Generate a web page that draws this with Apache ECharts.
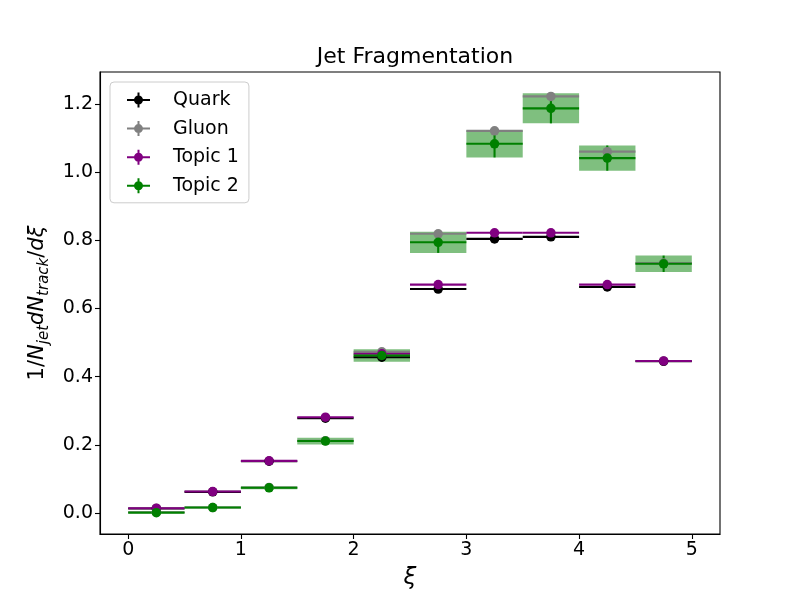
<!DOCTYPE html>
<html>
<head>
<meta charset="utf-8">
<script src="https://cdn.jsdelivr.net/npm/echarts@6/dist/echarts.min.js"></script>
<style>html,body{margin:0;padding:0;background:#fff}#c{width:800px;height:600px}</style>
</head>
<body>
<div id="c"></div>
<script>
const binEdges = [0, 0.5, 1, 1.5, 2, 2.5, 3, 3.5, 4, 4.5, 5];
const seriesNames = ['Quark', 'Gluon', 'Topic 1', 'Topic 2'];
const quark     = [0.013, 0.062, 0.152, 0.278, 0.457, 0.657, 0.804, 0.810, 0.663, 0.445];
const quarkErr  = [0.001, 0.001, 0.002, 0.002, 0.003, 0.004, 0.004, 0.004, 0.004, 0.003];
const gluon     = [0.002, 0.016, 0.075, 0.212, 0.473, 0.819, 1.121, 1.222, 1.060, 0.733];
const gluonErr  = [0.001, 0.001, 0.002, 0.003, 0.004, 0.005, 0.006, 0.006, 0.006, 0.005];
const topic1    = [0.014, 0.063, 0.153, 0.281, 0.467, 0.670, 0.822, 0.822, 0.670, 0.446];
const topic1Err = [0.001, 0.001, 0.002, 0.002, 0.003, 0.003, 0.004, 0.004, 0.003, 0.003];
const topic2    = [0.001, 0.016, 0.074, 0.211, 0.462, 0.794, 1.083, 1.187, 1.041, 0.731];
const topic2Err = [0.001, 0.002, 0.004, 0.010, 0.018, 0.031, 0.040, 0.044, 0.037, 0.024];
const xTicks = [0, 1, 2, 3, 4, 5];
const yTicks = [0, 0.2, 0.4, 0.6, 0.8, 1.0, 1.2];

const colors = ['#000000', '#808080', '#800080', '#008000'];
const values = [quark, gluon, topic1, topic2];
const errs = [quarkErr, gluonErr, topic1Err, topic2Err];

function rows(vals, err) {
  return vals.map((v, i) => [binEdges[i], binEdges[i + 1], v, err[i]]);
}
function pts(vals) {
  return vals.map((v, i) => [(binEdges[i] + binEdges[i + 1]) / 2, v]);
}

const FONT = 'DejaVu Sans';
const legendIcon = 'path://M0,6.5 L23,6.5 L23,8.5 L0,8.5 Z M10.5,0 L12.5,0 L12.5,15 L10.5,15 Z M11.5,3 A4.5,4.5 0 1,1 11.5,12 A4.5,4.5 0 1,1 11.5,3 Z';

const series = [];
// uncertainty boxes for Topic 2
series.push({
  type: 'custom',
  name: 'Topic 2',
  data: rows(topic2, topic2Err),
  silent: true,
  renderItem: function (params, api) {
    const p0 = api.coord([api.value(0), api.value(2) + api.value(3)]);
    const p1 = api.coord([api.value(1), api.value(2) - api.value(3)]);
    return {
      type: 'rect',
      shape: { x: p0[0], y: p0[1], width: p1[0] - p0[0], height: p1[1] - p0[1] },
      style: { fill: 'rgba(0,128,0,0.5)' }
    };
  }
});
seriesNames.forEach((name, k) => {
  series.push({
    type: 'custom',
    name: name,
    data: rows(values[k], errs[k]),
    silent: true,
    renderItem: function (params, api) {
      const xc = (api.value(0) + api.value(1)) / 2;
      const y = api.value(2), e = api.value(3);
      const a = api.coord([api.value(0), y]);
      const b = api.coord([api.value(1), y]);
      const t = api.coord([xc, y + e]);
      const d = api.coord([xc, y - e]);
      return {
        type: 'group',
        children: [
          { type: 'line', shape: { x1: a[0], y1: a[1], x2: b[0], y2: b[1] }, style: { stroke: colors[k], lineWidth: 2.1 } },
          { type: 'line', shape: { x1: t[0], y1: t[1], x2: d[0], y2: d[1] }, style: { stroke: colors[k], lineWidth: 2.1 } }
        ]
      };
    }
  });
  series.push({
    type: 'scatter',
    name: name,
    data: pts(values[k]),
    symbol: 'circle',
    symbolSize: 9.5,
    itemStyle: { color: colors[k], opacity: 1 },
    silent: true
  });
});

const chart = echarts.init(document.getElementById('c'), null, { renderer: 'canvas' });
chart.setOption({
  animation: false,
  backgroundColor: '#ffffff',
  title: {
    text: 'Jet Fragmentation',
    left: 410,
    textAlign: 'center',
    top: 41,
    textStyle: { fontFamily: FONT, fontSize: 22, fontWeight: 'normal', color: '#000' }
  },
  legend: {
    orient: 'vertical',
    left: 110,
    top: 82,
    padding: [8, 10, 7, 17],
    itemWidth: 23,
    itemHeight: 15,
    itemGap: 8.6,
    backgroundColor: 'rgba(255,255,255,0.8)',
    borderColor: '#cccccc',
    borderWidth: 1,
    borderRadius: 4,
    data: seriesNames.map((n, k) => ({ name: n, icon: legendIcon, itemStyle: { color: colors[k] } })),
    textStyle: { fontFamily: FONT, fontSize: 19, lineHeight: 20, color: '#000', padding: [0, 0, 0, 18] },
    selectedMode: false
  },
  grid: { left: 100, right: 80, top: 72, bottom: 66, show: true, borderColor: '#000', borderWidth: 1.1, backgroundColor: 'transparent' },
  xAxis: {
    type: 'value',
    min: -0.25,
    max: 5.25,
    name: 'ξ',
    nameLocation: 'middle',
    nameGap: 33,
    nameTextStyle: { fontFamily: FONT, fontSize: 23, fontStyle: 'italic', color: '#000' },
    axisLine: { show: true, onZero: false, lineStyle: { color: '#000', width: 1.1 } },
    axisTick: { show: true, inside: false, length: 5, lineStyle: { color: '#000', width: 1.1 }, customValues: xTicks },
    axisLabel: { fontFamily: FONT, fontSize: 19, color: '#000', margin: 7, customValues: xTicks, formatter: v => String(v) },
    splitLine: { show: false }
  },
  yAxis: {
    type: 'value',
    min: -0.0616,
    max: 1.2936,
    name: '{n|1/}{i|N}{s|jet}{i|dN}{s|track}{n|/}{i|dξ}',
    nameLocation: 'middle',
    nameRotate: 90,
    nameGap: 46,
    nameTextStyle: {
      fontFamily: FONT, fontSize: 21, color: '#000',
      rich: {
        n: { fontFamily: FONT, fontSize: 21, lineHeight: 28, verticalAlign: 'middle', color: '#000' },
        i: { fontFamily: FONT, fontSize: 21, fontStyle: 'italic', lineHeight: 28, verticalAlign: 'middle', color: '#000' },
        s: { fontFamily: FONT, fontSize: 15, fontStyle: 'italic', lineHeight: 14, verticalAlign: 'bottom', color: '#000' }
      }
    },
    axisLine: { show: true, onZero: false, lineStyle: { color: '#000', width: 1.1 } },
    axisTick: { show: true, inside: false, length: 5, lineStyle: { color: '#000', width: 1.1 }, customValues: yTicks },
    axisLabel: { fontFamily: FONT, fontSize: 19, color: '#000', margin: 7, customValues: yTicks, formatter: v => Number(v).toFixed(1) },
    splitLine: { show: false }
  },
  series: series
});
</script>
</body>
</html>
